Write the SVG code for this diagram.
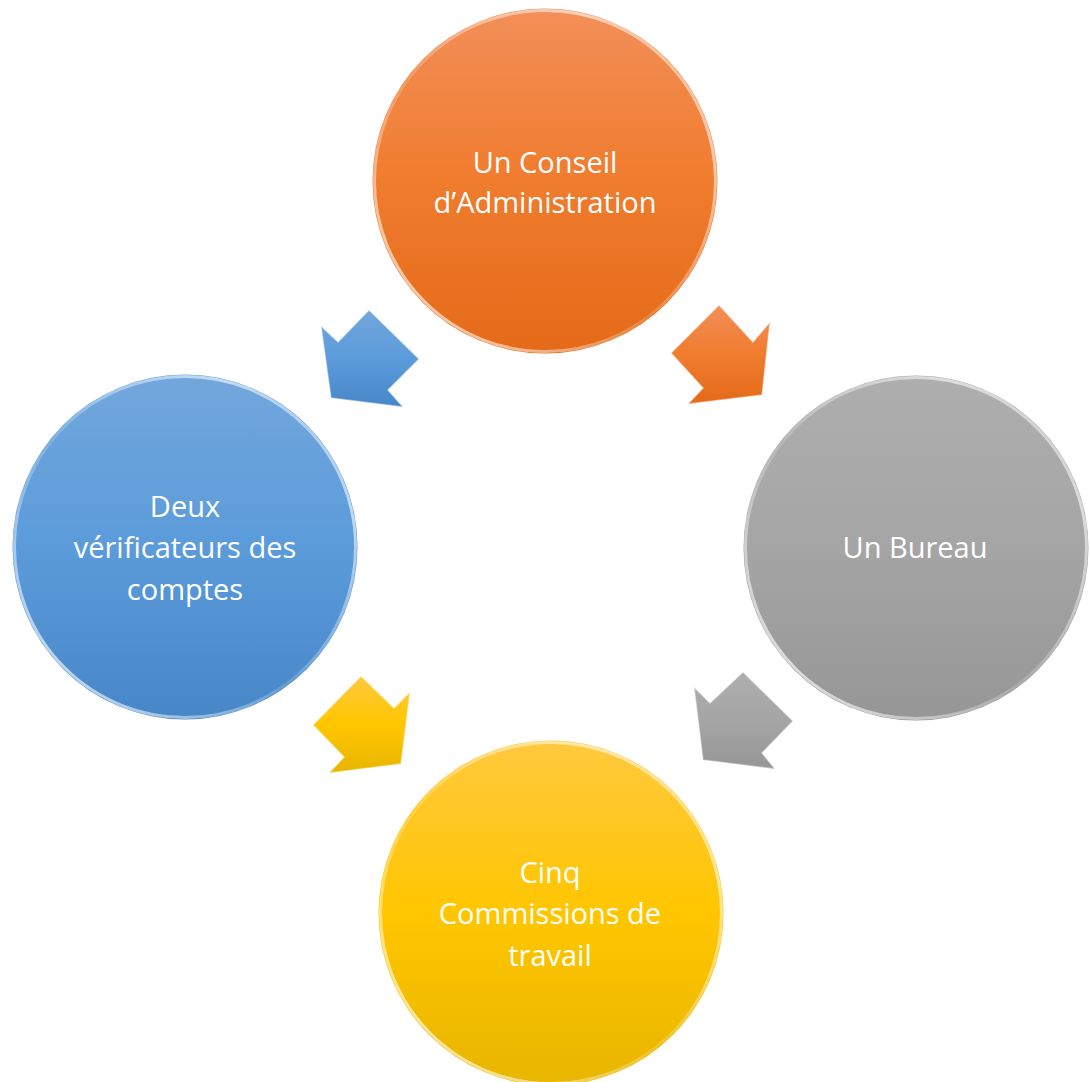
<svg xmlns="http://www.w3.org/2000/svg" width="1089" height="1082" viewBox="0 0 1089 1082">
<defs>
<linearGradient id="gOr" x1="0" y1="0" x2="0" y2="1"><stop offset="0" stop-color="#F28F59"/><stop offset="0.5" stop-color="#F07C2E"/><stop offset="1" stop-color="#E46A18"/></linearGradient>
<linearGradient id="gBl" x1="0" y1="0" x2="0" y2="1"><stop offset="0" stop-color="#72A7DC"/><stop offset="0.5" stop-color="#5B9BDA"/><stop offset="1" stop-color="#4787C8"/></linearGradient>
<linearGradient id="gGr" x1="0" y1="0" x2="0" y2="1"><stop offset="0" stop-color="#AEAEAE"/><stop offset="0.5" stop-color="#A5A5A5"/><stop offset="1" stop-color="#969696"/></linearGradient>
<linearGradient id="gYe" x1="0" y1="0" x2="0" y2="1"><stop offset="0" stop-color="#FFC93E"/><stop offset="0.5" stop-color="#FFC600"/><stop offset="1" stop-color="#E8B600"/></linearGradient>
<linearGradient id="rim" x1="0" y1="1" x2="1" y2="0"><stop offset="0" stop-color="#FFFFFF" stop-opacity="0.85"/><stop offset="0.45" stop-color="#FFFFFF" stop-opacity="0.15"/><stop offset="0.8" stop-color="#FFFFFF" stop-opacity="0.6"/><stop offset="1" stop-color="#FFFFFF" stop-opacity="0.2"/></linearGradient>
</defs>
<style>
.lbl{font-family:"Open Sans","Noto Sans","Liberation Sans",sans-serif;font-size:29px;fill:#FFFFFF;text-anchor:middle}
.rim{fill:none;stroke:url(#rim);stroke-width:3}
.arr{stroke:#FFFFFF;stroke-opacity:0.45;stroke-width:1.5;stroke-linejoin:miter}
</style>
<rect width="1089" height="1082" fill="#FFFFFF"/>
<g id="connectors">
<polygon class="arr" fill="url(#gOr)" points="719,305 753,342 770,322 762,395 688,404 703,388 671,353"/>
<polygon class="arr" fill="url(#gGr)" points="743,672 793,721 762,753 775,769 703,760 694,687 710,703"/>
<polygon class="arr" fill="url(#gYe)" points="361,676 394,708 410,692 401,764 329,773 344,757 313,725"/>
<polygon class="arr" fill="url(#gBl)" points="369,310 419,359 388,390 403,407 331,398 321,326 338,342"/>
</g>
<g id="node-conseil">
<circle cx="545" cy="181" r="172.5" fill="url(#gOr)"/>
<circle class="rim" cx="545" cy="181" r="170.5"/>
<text class="lbl" x="545" y="173">Un Conseil</text>
<text class="lbl" x="545" y="213">d’Administration</text>
</g>
<g id="node-bureau">
<circle cx="916" cy="548" r="172.5" fill="url(#gGr)"/>
<circle class="rim" cx="916" cy="548" r="170.5"/>
<text class="lbl" x="915" y="558">Un Bureau</text>
</g>
<g id="node-commissions">
<circle cx="551" cy="913" r="172.5" fill="url(#gYe)"/>
<circle class="rim" cx="551" cy="913" r="170.5"/>
<text class="lbl" x="550" y="883">Cinq</text>
<text class="lbl" x="550" y="924">Commissions de</text>
<text class="lbl" x="550" y="966">travail</text>
</g>
<g id="node-verificateurs">
<circle cx="185" cy="547" r="172.5" fill="url(#gBl)"/>
<circle class="rim" cx="185" cy="547" r="170.5"/>
<text class="lbl" x="185" y="517">Deux</text>
<text class="lbl" x="185" y="558">vérificateurs des</text>
<text class="lbl" x="185" y="600">comptes</text>
</g>
</svg>
